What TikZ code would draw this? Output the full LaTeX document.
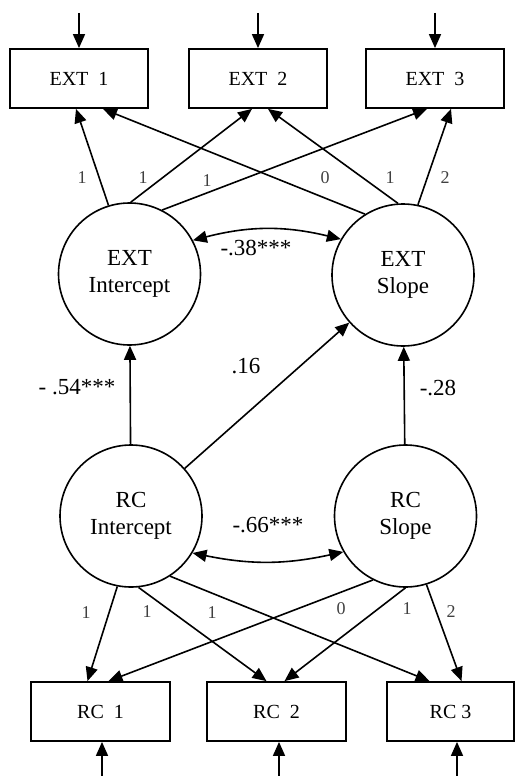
\documentclass[tikz,border=0pt]{standalone}
\usepackage{fontspec}
\setmainfont{Liberation Serif}
\usetikzlibrary{arrows.meta}
\begin{document}
\begin{tikzpicture}[x=1pt,y=-1pt,
  obs/.style={draw,line width=1.8pt,minimum width=138pt,minimum height=59pt,inner sep=0pt,font=\fontsize{20}{24}\selectfont},
  lat/.style={draw,circle,line width=1.6pt,minimum size=142pt,inner sep=0pt,align=center,font=\fontsize{23}{27}\selectfont},
  arr/.style={line width=1.6pt,-{Triangle[length=14pt,width=12pt]}},
  cov/.style={line width=1.6pt,{Triangle[length=14pt,width=12pt]}-{Triangle[length=14pt,width=12pt]}},
  load/.style={font=\fontsize{18}{20}\selectfont,text=black!75,inner sep=0pt},
  coef/.style={font=\fontsize{23}{26}\selectfont,inner sep=0pt}]
\useasboundingbox (0,0) rectangle (516,776);
% observed
\node[obs] (e1) at (79,78.5) {EXT\ \ 1};
\node[obs] (e2) at (258,78.5) {EXT\ \ 2};
\node[obs] (e3) at (435,78.5) {EXT\ \ 3};
\node[obs,minimum width=139pt] (r1) at (100.5,711.5) {RC\ \ 1};
\node[obs,minimum width=139pt] (r2) at (276.5,711.5) {RC\ \ 2};
\node[obs,minimum width=127pt] (r3) at (450.5,711.5) {RC 3};
% latent
\node[lat] (ei) at (129.5,274) {EXT\\Intercept};
\node[lat] (es) at (403,275) {EXT\\Slope};
\node[lat] (ri) at (131,516) {RC\\Intercept};
\node[lat] (rs) at (405.5,516) {RC\\Slope};
% residual arrows
\coordinate (t1) at (79,13);
\coordinate (t2) at (258,13);
\coordinate (t3) at (435,13);
\coordinate (b1) at (102,776);
\coordinate (b2) at (279,776);
\coordinate (b3) at (457,776);
\draw[arr] (t1) -- (e1.north);
\draw[arr] (t2) -- (e2.north);
\draw[arr] (t3) -- (e3.north);
\draw[arr] (b1) -- (b1 |- r1.south);
\draw[arr] (b2) -- (b2 |- r2.south);
\draw[arr] (b3) -- (b3 |- r3.south);
% EXT loadings
\draw[arr] (ei.107) -- ([xshift=-3pt]e1.south);
\draw[arr] (ei.89) -- ([xshift=-6pt]e2.south);
\draw[arr] (ei.63) -- ([xshift=-8pt]e3.south);
\draw[arr] (es.122) -- ([xshift=24pt]e1.south);
\draw[arr] (es.94) -- ([xshift=10pt]e2.south);
\draw[arr] (es.78) -- ([xshift=16pt]e3.south);
% RC loadings
\draw[arr] (ri.259) -- ([xshift=-13pt]r1.north);
\draw[arr] (ri.276) -- ([xshift=-10pt]r2.north);
\draw[arr] (ri.303) -- ([xshift=-21pt]r3.north);
\draw[arr] (rs.243) -- ([xshift=8pt]r1.north);
\draw[arr] (rs.270) -- ([xshift=8pt]r2.north);
\draw[arr] (rs.287) -- ([xshift=11pt]r3.north);
% regressions
\draw[arr] (ri) -- (ei);
\draw[arr] (ri) -- (es);
\draw[arr] (rs) -- (es);
% covariances
\draw[cov] (ei.28) to[bend left=14] (es.150);
\draw[cov] (ri.-31) to[bend right=12] (rs.210);
% loading labels
\node[load] (l1) at (82,178) {1};
\node[load] (l2) at (143,178) {1};
\node[load] (l3) at (207,181) {1};
\node[load] (l4) at (325,178) {0};
\node[load] (l5) at (390,178) {1};
\node[load] (l6) at (445,178) {2};
\node[load] (m1) at (86,613) {1};
\node[load] (m2) at (147,612) {1};
\node[load] (m3) at (212,613) {1};
\node[load] (m4) at (341,609) {0};
\node[load] (m5) at (407,609) {1};
\node[load] (m6) at (451,612) {2};
% coefficient labels
\node[coef] (c1) at (256,248) {-.38***};
\node[coef] (c2) at (77,387) {- .54***};
\node[coef] (c3) at (246,366) {.16};
\node[coef] (c4) at (438,388) {-.28};
\node[coef] (c5) at (268,525) {-.66***};
\end{tikzpicture}
\end{document}
